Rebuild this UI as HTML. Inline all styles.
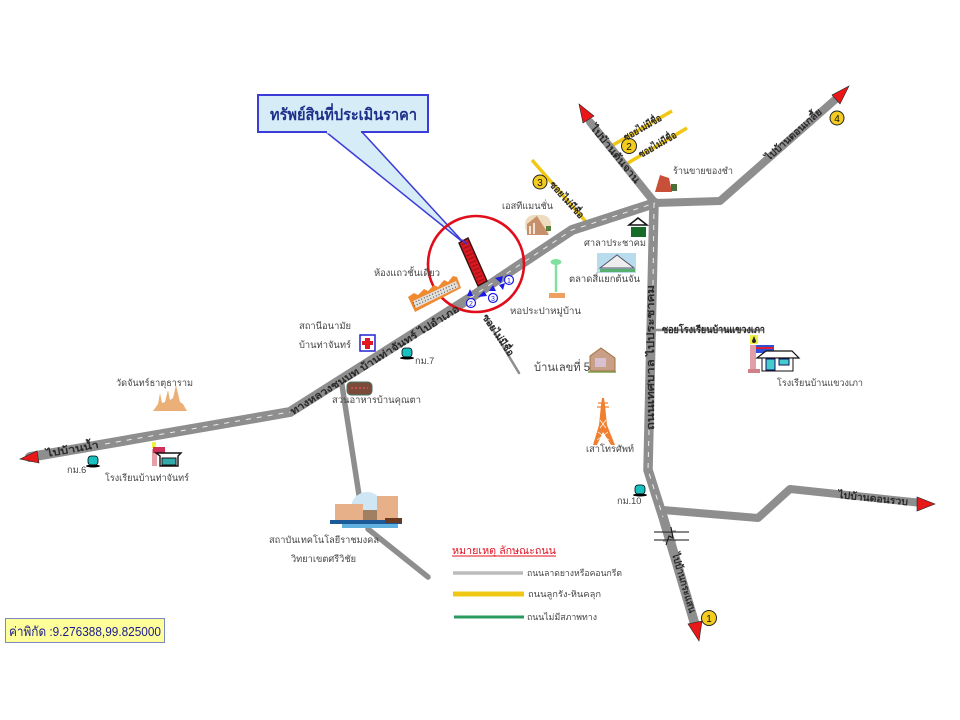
<!DOCTYPE html>
<html><head><meta charset="utf-8"><style>
html,body{margin:0;padding:0;background:#fff;width:960px;height:720px;overflow:hidden}
svg{display:block;filter:blur(.35px)}
text{font-family:"Liberation Sans","Noto Sans CJK SC",sans-serif;font-size:9.2px;fill:#444}
.r{fill:#2a2a2a;font-size:10px;font-weight:bold}
.num{font-size:10px;fill:#111;text-anchor:middle}
.m{font-size:7px;fill:#1a1ae8;text-anchor:middle}
</style></head><body>
<svg width="960" height="720" viewBox="0 0 960 720" xmlns="http://www.w3.org/2000/svg">
<!-- yellow roads -->
<g stroke="#f0c814" stroke-width="3.5" fill="none">
<path d="M532 160L587 223"/><path d="M613 145L672 111"/><path d="M628 163L687 128"/>
</g>
<!-- gray roads -->
<g stroke="#8e8e8e" fill="none" stroke-linejoin="round" stroke-linecap="round">
<path d="M342 385L359 495" stroke-width="5.5"/>
<path d="M368 529L428 577" stroke-width="5.5"/>
<path d="M487 320L519 373" stroke-width="2.5"/>
<path d="M655 330L762 330" stroke-width="2.5"/>
<path d="M663 510L758 518L790 489L922 503" stroke-width="8"/>
<path d="M590 122L655 203L720 201L837 98" stroke-width="8"/>
<path d="M30 457L290 412L470 298L572 230L655 203" stroke-width="10"/>
<path d="M654 203L648 470L663 517L696 628" stroke-width="9.5"/>
</g>
<g stroke="#ececec" stroke-width="1" fill="none" stroke-dasharray="5 6">
<path d="M105 444L290 412"/><path d="M470 298L572 230L655 203"/>
<path d="M654 203L653 285"/><path d="M649 430L648 470L663 517"/>
</g>
<!-- break mark -->
<path d="M654 532H689M654 540H689" stroke="#111" stroke-width="1"/>
<path d="M663 531H676M663 541H676" stroke="#8e8e8e" stroke-width="1.2"/>
<path d="M666 545L669 536L673 538L671 527" fill="none" stroke="#111" stroke-width="1"/>
<!-- arrowheads -->
<g fill="#e81818" stroke="#222" stroke-width=".6">
<path d="M20 459L37 451L39 463Z"/>
<path d="M579 104L594 116L583 123Z"/>
<path d="M849 86L832 95L840 104Z"/>
<path d="M935 504L917 497L917 511Z"/>
<path d="M699 641L688 624L702 621Z"/>
</g>
<!-- callout -->
<path d="M326 132L464 243L362 132Z" fill="#d6ecf6" stroke="#3c3cd8" stroke-width="1.5"/>
<rect x="258" y="95" width="170" height="37" fill="#d6ecf6" stroke="#3c3cd8" stroke-width="2"/>
<path d="M327 132H361" stroke="#d6ecf6" stroke-width="3"/>
<text x="270" y="120" textLength="147" lengthAdjust="spacingAndGlyphs" style="font-family:'Liberation Serif','Noto Serif CJK SC',serif;font-size:16px;font-weight:bold;fill:#1d2f8a">ทรัพย์สินที่ประเมินราคา</text>
<!-- property -->
<path d="M459 243L468 238L487 281L478 286Z" fill="#d81820" stroke="#311" stroke-width="1.4"/>
<path d="M465 243L482 283" stroke="#9a1018" stroke-width="7" stroke-dasharray="1 3" fill="none"/>
<path d="M462 240L467 244" stroke="#5030c0" stroke-width="2"/>
<circle cx="476" cy="264" r="48" fill="none" stroke="#e00d1a" stroke-width="2.6"/>
<!-- blue markers -->
<g fill="#fff" stroke="#1a1ae8" stroke-width="1.2">
<circle cx="509" cy="280" r="4.5"/><circle cx="493" cy="298" r="4.5"/><circle cx="471" cy="303" r="4.5"/>
</g>
<text class="m" x="509" y="283">1</text><text class="m" x="471" y="306">2</text><text class="m" x="493" y="301">3</text>
<g fill="#1a1ae8">
<path d="M495 278L503 276L501 283Z"/><path d="M499 285L505 283L503 290Z"/><path d="M467 296L470 289L473 296Z"/>
<path d="M478 297L484 291L487 296Z"/><path d="M489 291L493 285L496 291Z"/>
</g>
<!-- yellow numbers -->
<g fill="#f4cc20" stroke="#222" stroke-width="1">
<circle cx="709" cy="618" r="7.5"/><circle cx="629" cy="146" r="7.5"/><circle cx="540" cy="182" r="7"/><circle cx="837" cy="118" r="7"/>
</g>
<text class="num" x="709" y="622">1</text><text class="num" x="629" y="150">2</text><text class="num" x="540" y="186">3</text><text class="num" x="837" y="122">4</text>
<!-- townhouse icon -->
<path d="M408 297L414 293L418 295L424 289L428 291L434 285L438 287L444 280L448 282L453 276L457 277L461 288L415 312Z" fill="#f08a30"/>
<path d="M413 301L456 281L459 287L416 308Z" fill="#e4e0dc"/>
<path d="M413 303L457 283M414 306L458 286" stroke="#555" stroke-width="1.2" stroke-dasharray="1 2" fill="none"/>
<!-- health cross -->
<rect x="360" y="335" width="15" height="16" fill="#fff" stroke="#2222d0" stroke-width="1.5"/>
<path d="M365 338h5v3h3v4h-3v4h-5v-4h-3v-4h3z" fill="#e01820"/>
<!-- km posts -->
<g fill="#18c0c0" stroke="#000" stroke-width=".8">
<rect x="402" y="348" width="10" height="9" rx="3"/><rect x="88" y="456" width="10" height="9" rx="3"/><rect x="635" y="485" width="10" height="9" rx="3"/>
</g>
<g fill="#000"><ellipse cx="407" cy="358" rx="7" ry="1.5"/><ellipse cx="93" cy="466" rx="7" ry="1.5"/><ellipse cx="640" cy="495" rx="7" ry="1.5"/></g>
<!-- temple -->
<path d="M153 411L158 404L160 393L162 403L165 402L168 390L170 400L173 398L176 385L180 402L183 404L187 411Z" fill="#eab078"/>
<!-- restaurant -->
<rect x="347" y="382" width="25" height="13" rx="4" fill="#7a4a3a" stroke="#476" stroke-width="1"/>
<path d="M351 388h17" stroke="#c05050" stroke-width="2" stroke-dasharray="2 2"/>
<!-- school left -->
<rect x="152" y="449" width="5" height="17" fill="#e8a0a8"/>
<rect x="152" y="442" width="4" height="6" fill="#f0f040"/>
<rect x="153" y="447" width="12" height="6" fill="#d03058"/>
<path d="M156 453H181L178 456V466H160V456Z" fill="#fff" stroke="#111" stroke-width="1.4"/>
<rect x="162" y="458" width="14" height="7" fill="#3aa" stroke="#111"/>
<!-- hall -->
<path d="M629 225L638 218L647 225Z" fill="#fff" stroke="#111" stroke-width="1.5"/>
<rect x="631" y="227" width="15" height="10" fill="#186a28"/>
<!-- market -->
<rect x="597" y="253" width="39" height="20" fill="#b8dcee"/>
<path d="M600 268L617 255L634 268Z" fill="#eee" stroke="#556" stroke-width="1"/>
<rect x="600" y="269" width="35" height="3" fill="#58b070"/>
<!-- water tower -->
<path d="M556 262V292" stroke="#80e0a0" stroke-width="2.5"/>
<ellipse cx="556" cy="262" rx="5.5" ry="3" fill="#80e0a0"/>
<rect x="549" y="293" width="16" height="5" fill="#eea060"/>
<!-- Estate icon -->
<rect x="525" y="215" width="26" height="20" rx="9" fill="#eedcc0"/>
<path d="M527 235V224L537 216L549 235Z" fill="#c8906a"/>
<path d="M530 226v8M534 223v11" stroke="#fff" stroke-width="1.5"/>
<rect x="546" y="226" width="5" height="5" fill="#5a8040"/>
<!-- shop -->
<path d="M655 192L660 175L669 178L672 192Z" fill="#c85038"/>
<rect x="671" y="184" width="6" height="7" fill="#487038"/>
<!-- house 5 -->
<path d="M590 371V356L601 348L615 358V371Z" fill="#c8a088" stroke="#a07040" stroke-width="1"/>
<rect x="595" y="358" width="11" height="9" fill="#d8c0d0"/>
<path d="M588 372H616" stroke="#80a050" stroke-width="1.5"/>
<!-- telecom tower -->
<path d="M601 405L602 398H604L605 405L607 425L615 445H611L603 432L597 445H593L599 425Z" fill="#f08030"/>
<path d="M597 407H609M598 403H608" stroke="#f08030" stroke-width="1.2"/>
<path d="M600 420L606 428M606 420L600 428M598 432L609 440M608 432L597 440" stroke="#fff" stroke-width=".7"/>
<!-- right school -->
<rect x="750" y="345" width="6" height="26" fill="#e0a0a8"/>
<rect x="748" y="369" width="12" height="4" fill="#d08088"/>
<rect x="750" y="335" width="8" height="9" fill="#f0f040"/>
<path d="M752 341l2-5 2 5a2 2 0 0 1-4 0z" fill="#222"/>
<rect x="756" y="345" width="18" height="8" fill="#3050d8"/><rect x="756" y="347" width="18" height="2" fill="#e02030"/>
<path d="M757 358L766 351H792L799 358Z" fill="#fff" stroke="#111" stroke-width="1.2"/>
<rect x="762" y="358" width="31" height="13" fill="#fff" stroke="#111"/>
<rect x="766" y="359" width="9" height="11" fill="#4cc" stroke="#116"/>
<rect x="779" y="359" width="10" height="6" fill="#4cc" stroke="#116"/>
<!-- institute -->
<circle cx="367" cy="508" r="16" fill="#cfe6f4"/>
<rect x="335" y="504" width="28" height="17" fill="#e8b088"/>
<rect x="377" y="496" width="21" height="25" fill="#e8b088"/>
<rect x="363" y="510" width="14" height="11" fill="#a08060"/>
<rect x="330" y="520" width="72" height="4" fill="#1a5a98"/>
<rect x="342" y="524" width="56" height="4" fill="#60b0e0"/>
<rect x="385" y="518" width="17" height="5" fill="#6a3a20"/>
<!-- legend -->
<path d="M453 573H523" stroke="#bbb" stroke-width="3.5"/>
<path d="M453 594H524" stroke="#f0c814" stroke-width="5"/>
<path d="M454 617H524" stroke="#2a9a60" stroke-width="3"/>
<path d="M452 556H556" stroke="#e01020" stroke-width="1"/>
<text x="452" y="554" textLength="104" lengthAdjust="spacingAndGlyphs" style="fill:#e01020;font-size:10.5px">หมายเหตุ ลักษณะถนน</text>
<text x="527" y="576" textLength="95" lengthAdjust="spacingAndGlyphs" style="font-size:8.8px">ถนนลาดยางหรือคอนกรีต</text>
<text x="528" y="597" textLength="73" lengthAdjust="spacingAndGlyphs" style="font-size:8.8px">ถนนลูกรัง-หินคลุก</text>
<text x="527" y="620" textLength="70" lengthAdjust="spacingAndGlyphs" style="font-size:8.8px">ถนนไม่มีสภาพทาง</text>
<!-- coord -->
<rect x="5.5" y="618.5" width="159" height="24" fill="#ffff99" stroke="#7a8ac0" stroke-width="1"/>
<text x="9" y="636" textLength="152" lengthAdjust="spacingAndGlyphs" style="fill:#1a1a90;font-size:13px">ค่าพิกัด :9.276388,99.825000</text>
<!-- labels -->
<text x="374" y="276" textLength="66" lengthAdjust="spacingAndGlyphs">ห้องแถวชั้นเดียว</text>
<text x="502" y="209" textLength="51" lengthAdjust="spacingAndGlyphs">เอสทีแมนชั่น</text>
<text x="584" y="246" textLength="62" lengthAdjust="spacingAndGlyphs">ศาลาประชาคม</text>
<text x="569" y="282" textLength="71" lengthAdjust="spacingAndGlyphs">ตลาดสี่แยกต้นจัน</text>
<text x="510" y="314" textLength="71" lengthAdjust="spacingAndGlyphs">หอประปาหมู่บ้าน</text>
<text x="673" y="174" textLength="60" lengthAdjust="spacingAndGlyphs">ร้านขายของชำ</text>
<text x="299" y="329" textLength="52" lengthAdjust="spacingAndGlyphs">สถานีอนามัย</text>
<text x="299" y="348" textLength="52" lengthAdjust="spacingAndGlyphs">บ้านท่าจันทร์</text>
<text x="415" y="364">กม.7</text>
<text x="116" y="386" textLength="77" lengthAdjust="spacingAndGlyphs">วัดจันทร์ธาตุธาราม</text>
<text x="332" y="403" textLength="89" lengthAdjust="spacingAndGlyphs">สวนอาหารบ้านคุณตา</text>
<text x="67" y="473">กม.6</text>
<text x="105" y="481" textLength="84" lengthAdjust="spacingAndGlyphs">โรงเรียนบ้านท่าจันทร์</text>
<text x="534" y="371" textLength="56" lengthAdjust="spacingAndGlyphs" style="font-size:11.5px">บ้านเลขที่ 5</text>
<text x="586" y="452" textLength="48" lengthAdjust="spacingAndGlyphs">เสาโทรศัพท์</text>
<text x="617" y="504">กม.10</text>
<text x="777" y="386" textLength="86" lengthAdjust="spacingAndGlyphs">โรงเรียนบ้านแขวงเภา</text>
<text x="269" y="543" textLength="110" lengthAdjust="spacingAndGlyphs">สถาบันเทคโนโลยีราชมงคล</text>
<text x="291" y="562" textLength="65" lengthAdjust="spacingAndGlyphs">วิทยาเขตศรีวิชัย</text>
<!-- road labels -->
<text class="r" x="662" y="333" textLength="103" lengthAdjust="spacingAndGlyphs">ซอยโรงเรียนบ้านแขวงเภา</text>
<text class="r" transform="translate(47 457) rotate(-10)" textLength="53" lengthAdjust="spacingAndGlyphs">ไปบ้านน้ำ</text>
<text class="r" transform="translate(293 415) rotate(-32)" textLength="197" lengthAdjust="spacingAndGlyphs">ทางหลวงชนบท บ้านท่าจันทร์ ไปอำเภอ</text>
<text class="r" transform="translate(654 430) rotate(-90)" textLength="145" lengthAdjust="spacingAndGlyphs">ถนนเทศบาล ไปประชาคม</text>
<text class="r" transform="translate(590 128) rotate(51)" textLength="72" lengthAdjust="spacingAndGlyphs">ไปบ้านต้นจาน</text>
<text class="r" transform="translate(769 161) rotate(-42)" textLength="72" lengthAdjust="spacingAndGlyphs">ไปบ้านดอนเกลี้ย</text>
<text class="r" transform="translate(838 498) rotate(6)" textLength="70" lengthAdjust="spacingAndGlyphs">ไปบ้านดอนรวบ</text>
<text class="r" transform="translate(672 554) rotate(73.6)" textLength="62" lengthAdjust="spacingAndGlyphs">ไปบ้านกระแสน</text>
<text class="r" transform="translate(549 185) rotate(48)" textLength="46" lengthAdjust="spacingAndGlyphs">ซอยไม่มีชื่อ</text>
<text class="r" transform="translate(626 141) rotate(-30)" textLength="42" lengthAdjust="spacingAndGlyphs">ซอยไม่มีชื่อ</text>
<text class="r" transform="translate(641 158) rotate(-30)" textLength="42" lengthAdjust="spacingAndGlyphs">ซอยไม่มีชื่อ</text>
<text class="r" transform="translate(482 317) rotate(56)" textLength="48" lengthAdjust="spacingAndGlyphs">ซอยไม่มีชื่อ</text>
</svg>
</body></html>
